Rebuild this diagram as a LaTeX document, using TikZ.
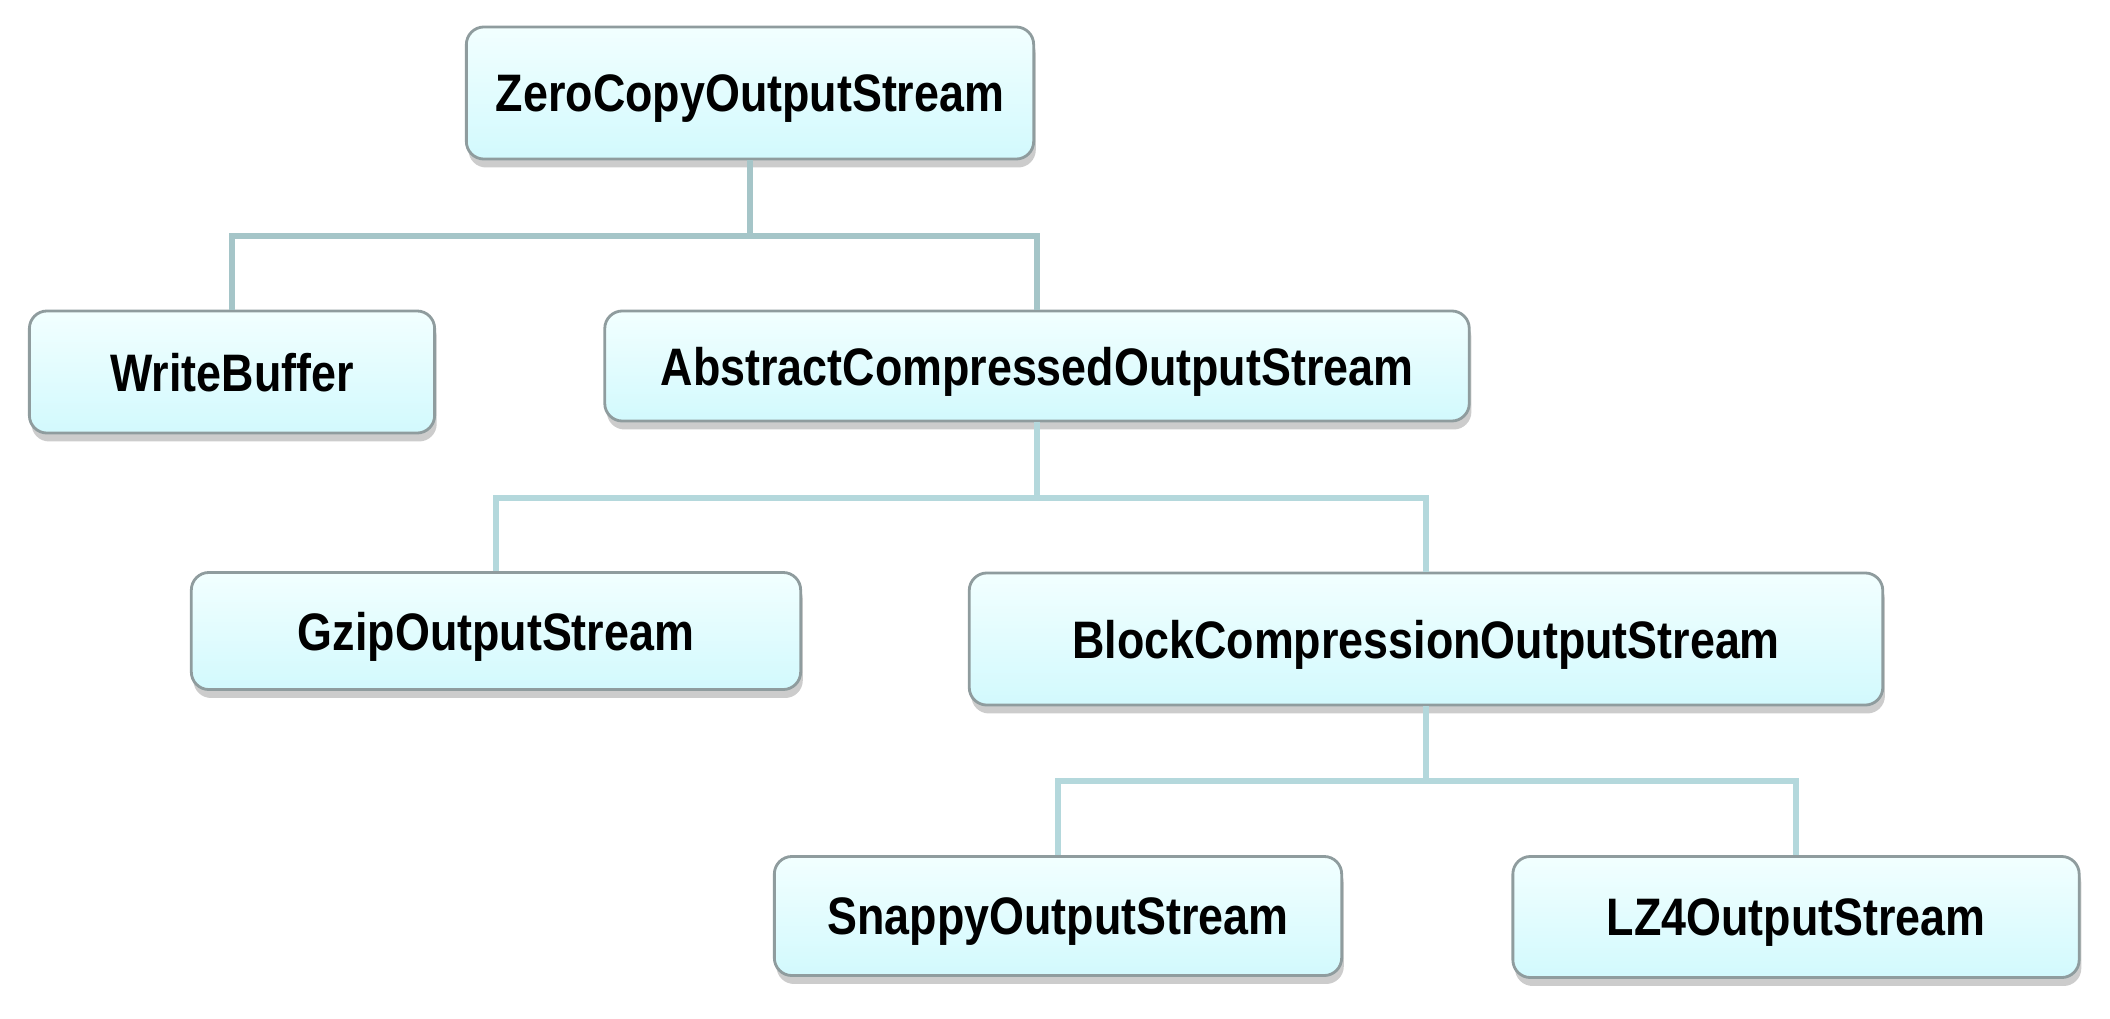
\documentclass[tikz,border=0pt]{standalone}
\usepackage{fontspec}
\setmainfont{Liberation Sans}[FakeStretch=0.85]
\usetikzlibrary{shadows}
\definecolor{boxtop}{HTML}{F2FFFF}
\definecolor{boxbot}{HTML}{D2F9FD}
\definecolor{boxline}{HTML}{8F9C9E}
\definecolor{linkdark}{HTML}{A5C5C8}
\definecolor{linklight}{HTML}{B4D8DC}
\tikzset{
  cls/.style={draw=boxline, line width=0.8pt, rounded corners=5pt,
    top color=boxtop, bottom color=boxbot,
    drop shadow={shadow xshift=0.6pt, shadow yshift=-2.4pt, opacity=0.4},
    font=\fontsize{15}{18}\selectfont\bfseries, inner sep=0pt, text depth=0pt},
  link/.style={draw=linkdark, line width=1.8pt},
  linkb/.style={draw=linklight, line width=1.8pt}
}
\begin{document}
\begin{tikzpicture}[x=0.01cm,y=-0.01cm]
\path[use as bounding box] (0,0) rectangle (2110,1018);

\node[cls, minimum width=5.67cm, minimum height=1.32cm] (zero) at (750,93) {ZeroCopyOutputStream};
\node[cls, minimum width=4.05cm, minimum height=1.22cm] (wb) at (232,372) {WriteBuffer};
\node[cls, minimum width=8.64cm, minimum height=1.10cm] (abs) at (1037,366) {AbstractCompressedOutputStream};
\node[cls, minimum width=6.09cm, minimum height=1.17cm] (gzip) at (496,631) {GzipOutputStream};
\node[cls, minimum width=9.13cm, minimum height=1.32cm] (block) at (1426,639) {BlockCompressionOutputStream};
\node[cls, minimum width=5.67cm, minimum height=1.19cm] (snappy) at (1058,916) {SnappyOutputStream};
\node[cls, minimum width=5.66cm, minimum height=1.21cm] (lz4) at (1796,917) {LZ4OutputStream};

\coordinate (j1) at (750,236);
\coordinate (j2) at (1037,498);
\coordinate (j3) at (1426,781);

\path[link] (zero.south) -- (j1);
\path[link] (j1) -| (wb.north);
\path[link] (j1) -| (abs.north);
\path[linkb] (abs.south) -- (j2);
\path[linkb] (j2) -| (gzip.north);
\path[linkb] (j2) -| (block.north);
\path[linkb] (block.south) -- (j3);
\path[linkb] (j3) -| (snappy.north);
\path[linkb] (j3) -| (lz4.north);
\end{tikzpicture}
\end{document}
